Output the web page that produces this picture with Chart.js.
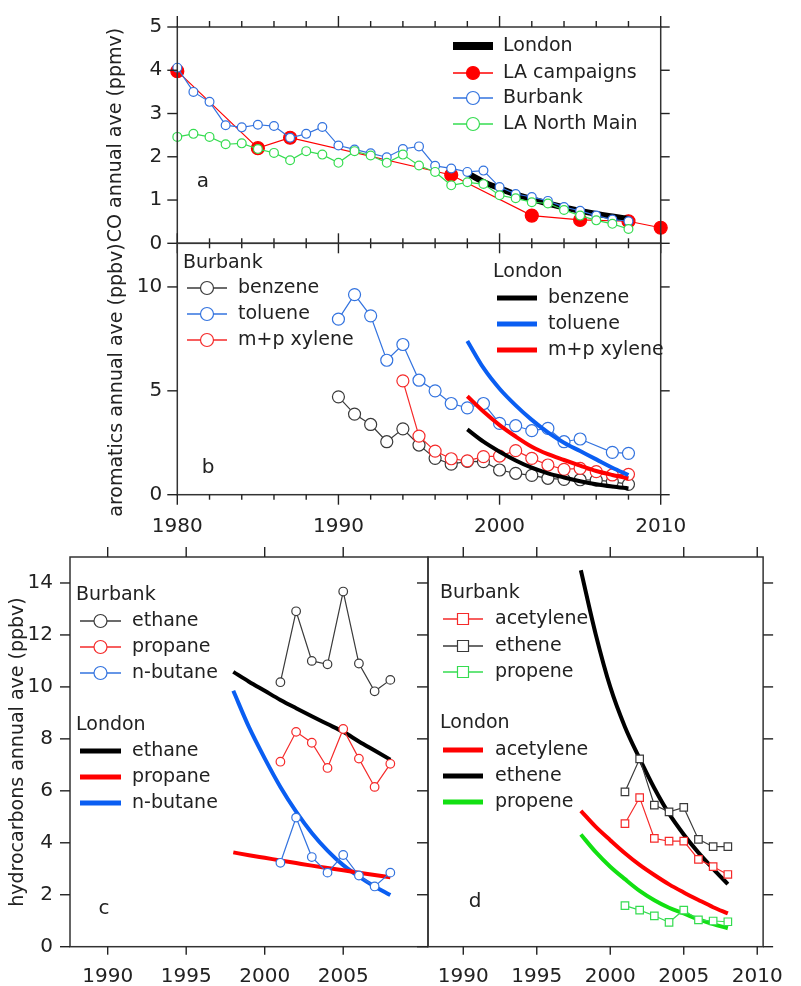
<!DOCTYPE html>
<html>
<head>
<meta charset="utf-8">
<script src="https://cdn.jsdelivr.net/npm/chart.js@4.4.1/dist/chart.umd.min.js"></script>
<style>
html, body { margin: 0; padding: 0; background: #fff; }
#wrap { position: relative; width: 801px; height: 986px; overflow: hidden; }
#wrap canvas { position: absolute; left: 0; top: 0; }
</style>
</head>
<body>
<div id="wrap">
  <canvas id="chartA" width="801" height="986"></canvas>
  <canvas id="chartB" width="801" height="986"></canvas>
  <canvas id="chartC" width="801" height="986"></canvas>
  <canvas id="chartD" width="801" height="986"></canvas>
</div>
<script>
// ---- panel a: CO ----
const coYears = [1980, 1981, 1982, 1983, 1984, 1985, 1986, 1987, 1988, 1989, 1990, 1991, 1992, 1993, 1994,
                 1995, 1996, 1997, 1998, 1999, 2000, 2001, 2002, 2003, 2004, 2005, 2006, 2007, 2008];
const burbankCO = [4.06, 3.50, 3.27, 2.73, 2.68, 2.74, 2.71, 2.44, 2.53, 2.69, 2.26, 2.17, 2.08, 1.99, 2.18,
                   2.24, 1.79, 1.73, 1.65, 1.68, 1.30, 1.14, 1.07, 0.98, 0.84, 0.75, 0.64, 0.55, 0.51];
const northMainCO = [2.46, 2.53, 2.46, 2.29, 2.31, 2.18, 2.09, 1.92, 2.13, 2.05, 1.86, 2.13, 2.03, 1.86, 2.05,
                     1.80, 1.65, 1.34, 1.41, 1.37, 1.11, 1.04, 0.95, 0.92, 0.77, 0.64, 0.53, 0.45, 0.33];
const laYears = [1980, 1985, 1987, 1997, 2002, 2005, 2008, 2010];
const laCO = [3.98, 2.20, 2.44, 1.58, 0.64, 0.54, 0.51, 0.36];
const londonYears = [1998, 1999, 2000, 2001, 2002, 2003, 2004, 2005, 2006, 2007, 2008];
const londonCO = [1.62, 1.42, 1.27, 1.13, 1.02, 0.92, 0.83, 0.75, 0.68, 0.62, 0.56];

// ---- panel b: aromatics ----
const aroYears = [1990, 1991, 1992, 1993, 1994, 1995, 1996, 1997, 1998, 1999, 2000, 2001, 2002, 2003, 2004,
                  2005, 2006, 2007, 2008];
const benzeneBur = [4.71, 3.88, 3.38, 2.55, 3.17, 2.39, 1.75, 1.47, 1.60, 1.59, 1.19, 1.03, 0.93, 0.79, 0.74,
                    0.72, 0.70, 0.63, 0.50];
const tolueneYears = [1990, 1991, 1992, 1993, 1994, 1995, 1996, 1997, 1998, 1999, 2000, 2001, 2002, 2003, 2004,
                      2005, 2007, 2008];
const tolueneBur = [8.45, 9.63, 8.61, 6.47, 7.23, 5.51, 5.00, 4.39, 4.18, 4.39, 3.43, 3.32, 3.08, 3.19, 2.55,
                    2.68, 2.04, 1.99];
const xyleneYears = [1994, 1995, 1996, 1997, 1998, 1999, 2000, 2001, 2002, 2003, 2004, 2005, 2006, 2007, 2008];
const xyleneBur = [5.48, 2.82, 2.10, 1.73, 1.63, 1.83, 1.86, 2.12, 1.75, 1.43, 1.22, 1.27, 1.11, 0.95, 0.98];
const benzeneLon = [3.14, 2.55, 2.07, 1.65, 1.30, 1.03, 0.83, 0.65, 0.50, 0.39, 0.30];
const tolueneLon = [7.40, 6.10, 5.10, 4.30, 3.60, 3.00, 2.50, 2.10, 1.70, 1.30, 0.95];
const xyleneLon = [4.74, 4.00, 3.35, 2.80, 2.31, 1.95, 1.67, 1.40, 1.14, 0.95, 0.79];

// ---- panels c, d: hydrocarbons ----
const hcYears = [2001, 2002, 2003, 2004, 2005, 2006, 2007, 2008];
const ethaneBur = [10.18, 12.91, 11.00, 10.87, 13.67, 10.90, 9.83, 10.27];
const propaneBur = [7.12, 8.27, 7.85, 6.88, 8.38, 7.24, 6.15, 7.04];
const butaneBur = [3.23, 4.97, 3.45, 2.85, 3.53, 2.74, 2.32, 2.85];
const ethaneLon = [10.58, 10.20, 9.85, 9.50, 9.18, 8.87, 8.57, 8.27, 7.90, 7.55, 7.20];
const propaneLon = [3.63, 3.52, 3.42, 3.32, 3.22, 3.12, 3.03, 2.94, 2.85, 2.76, 2.67];
const butaneLon = [9.85, 8.45, 7.25, 6.15, 5.20, 4.38, 3.70, 3.14, 2.70, 2.32, 1.99];

const acetyleneBur = [4.74, 5.74, 4.17, 4.06, 4.06, 3.36, 3.08, 2.78];
const etheneBur = [5.96, 7.23, 5.45, 5.19, 5.36, 4.13, 3.85, 3.85];
const propeneBur = [1.58, 1.41, 1.19, 0.94, 1.41, 1.03, 0.99, 0.96];
const acetyleneLon = [5.23, 4.62, 4.10, 3.60, 3.15, 2.76, 2.40, 2.09, 1.80, 1.52, 1.28];
const etheneLon = [14.49, 12.05, 10.00, 8.46, 7.24, 6.10, 5.12, 4.32, 3.62, 3.00, 2.41];
const propeneLon = [4.32, 3.65, 3.08, 2.60, 2.15, 1.79, 1.50, 1.28, 1.05, 0.87, 0.71];

// tick labels
const decadeTicks = [1980, 1990, 2000, 2010];
const evenYearTicks = [1982, 1984, 1986, 1988, 1992, 1994, 1996, 1998, 2002, 2004, 2006, 2008];
const coTicks = [0, 1, 2, 3, 4, 5];
const aroTicks = [0, 5, 10];
const hcTicks = [0, 2, 4, 6, 8, 10, 12, 14];
const fiveYearTicksC = [1990, 1995, 2000, 2005];
const fiveYearTicksD = [1990, 1995, 2000, 2005, 2010];

const FONT = '"DejaVu Sans", "Liberation Sans", sans-serif';
const INK = '#222';
const RED = '#f52a2a', BLUE = '#3373df', GREEN = '#35dc50', GREY = '#3a3a3a';
const RED_T = '#ff0000', BLUE_T = '#0a5ef2', GREEN_T = '#12e012', BLACK_T = '#000';

function pts(xs, ys) {
    return xs.map((x, i) => ({x: x, y: ys[i]}));
}

function burbank(label, xs, ys, color, r, style) {
    return {
        label: label, data: pts(xs, ys),
        borderColor: color, borderWidth: 1.2,
        pointStyle: style || 'circle', pointRadius: r,
        pointBorderColor: color, pointBackgroundColor: '#fff', pointBorderWidth: 1.2,
        clip: false
    };
}

function london(label, xs, ys, color, w) {
    return {
        label: label, data: pts(xs, ys),
        borderColor: color, borderWidth: w, pointRadius: 0,
        cubicInterpolationMode: 'monotone', borderCapStyle: 'butt', clip: false
    };
}

function xScale(min, max, tickVals, show, h, pad) {
    return {
        type: 'linear', min: min, max: max, display: show,
        afterBuildTicks: s => { s.ticks = tickVals.map(v => ({value: v})); },
        ticks: {padding: pad, color: INK, font: {family: FONT, size: 20}, maxRotation: 0, autoSkip: false,
                callback: v => String(v)},
        grid: {display: false, drawTicks: false},
        border: {display: false},
        afterFit: s => { s.height = h; }
    };
}

function yScale(min, max, tickVals, show, width, pad) {
    return {
        type: 'linear', min: min, max: max, display: show,
        afterBuildTicks: s => { s.ticks = tickVals.map(v => ({value: v})); },
        ticks: {padding: pad, color: INK, font: {family: FONT, size: 20}, callback: v => String(v)},
        grid: {display: false, drawTicks: false},
        border: {display: false},
        afterFit: s => { s.width = width; }
    };
}

// frame, tick marks, axis title, legend and panel letter (config kept in a closure)
function makeDeco(cfg) {
    return {
        id: 'deco',
        afterDraw(chart) {
            const ctx = chart.ctx, a = chart.chartArea;
            const sx = chart.scales.x, sy = chart.scales.y;
            ctx.save();
            ctx.strokeStyle = '#333';
            ctx.lineWidth = 1.5;
            ctx.strokeRect(a.left, a.top, a.right - a.left, a.bottom - a.top);

            ctx.strokeStyle = INK;
            ctx.lineWidth = 1.4;
            cfg.ticks.forEach(t => {
                const outLen = t.dir === 'in' ? 0 : t.len;
                const inLen = t.dir === 'out' ? 0 : t.len;
                t.values.forEach(v => {
                    ctx.beginPath();
                    if (t.side === 'top' || t.side === 'bottom') {
                        const px = sx.getPixelForValue(v);
                        const base = t.side === 'top' ? a.top : a.bottom;
                        const s = t.side === 'top' ? -1 : 1;
                        ctx.moveTo(px, base + s * outLen);
                        ctx.lineTo(px, base - s * inLen);
                    } else {
                        const py = sy.getPixelForValue(v);
                        const base = t.side === 'left' ? a.left : a.right;
                        const s = t.side === 'left' ? -1 : 1;
                        ctx.moveTo(base + s * outLen, py);
                        ctx.lineTo(base - s * inLen, py);
                    }
                    ctx.stroke();
                });
            });

            if (cfg.title) {
                ctx.save();
                ctx.translate(cfg.title.x, cfg.title.y);
                ctx.rotate(-Math.PI / 2);
                ctx.font = '19px ' + FONT;
                ctx.fillStyle = INK;
                ctx.textAlign = 'center';
                ctx.textBaseline = 'middle';
                ctx.fillText(cfg.title.text, 0, 0);
                ctx.restore();
            }

            ctx.font = '19px ' + FONT;
            ctx.textBaseline = 'middle';
            ctx.textAlign = 'left';
            cfg.legend.forEach(g => {
                if (g.head) {
                    ctx.fillStyle = INK;
                    ctx.fillText(g.head, g.hx, g.hy);
                }
                g.rows.forEach(r => {
                    ctx.strokeStyle = r.color;
                    ctx.lineWidth = r.lw;
                    ctx.beginPath();
                    ctx.moveTo(g.x1, r.y);
                    ctx.lineTo(g.x2, r.y);
                    ctx.stroke();
                    if (r.marker) {
                        const mx = (g.x1 + g.x2) / 2;
                        ctx.fillStyle = r.face || '#fff';
                        ctx.lineWidth = 1.2;
                        ctx.beginPath();
                        if (r.marker === 'rect') {
                            ctx.rect(mx - r.r, r.y - r.r, 2 * r.r, 2 * r.r);
                        } else {
                            ctx.arc(mx, r.y, r.r, 0, Math.PI * 2);
                        }
                        ctx.fill();
                        ctx.stroke();
                    }
                    ctx.fillStyle = INK;
                    ctx.fillText(r.text, g.tx, r.y);
                });
            });

            ctx.fillStyle = INK;
            ctx.font = '20px ' + FONT;
            ctx.textAlign = 'center';
            ctx.fillText(cfg.letter.text, cfg.letter.x, cfg.letter.y);
            ctx.restore();
        }
    };
}

function baseOptions(pad, scales) {
    return {
        responsive: false, animation: false, events: [],
        layout: {padding: pad},
        scales: scales,
        plugins: {legend: {display: false}, tooltip: {enabled: false}}
    };
}

// panel a
new Chart(document.getElementById('chartA'), {
    type: 'line',
    data: {datasets: [
        burbank('LA North Main', coYears, northMainCO, GREEN, 4.4),
        burbank('Burbank', coYears, burbankCO, BLUE, 4.4),
        london('London', londonYears, londonCO, BLACK_T, 6),
        Object.assign(burbank('LA campaigns', laYears, laCO, RED_T, 6.5), {pointBackgroundColor: RED_T})
    ]},
    options: baseOptions({left: 0, right: 140.3, top: 22.7, bottom: 742.7}, {
        x: xScale(1980, 2010, decadeTicks, false, 0, 0),
        y: yScale(0, 5, coTicks, true, 177.3, 15)
    }),
    plugins: [makeDeco({
        ticks: [
            {side: 'top', values: decadeTicks, len: 11, dir: 'out'},
            {side: 'top', values: evenYearTicks, len: 6, dir: 'out'},
            {side: 'bottom', values: decadeTicks, len: 10, dir: 'both'},
            {side: 'bottom', values: evenYearTicks, len: 5, dir: 'both'},
            {side: 'left', values: coTicks, len: 10, dir: 'out'},
            {side: 'right', values: coTicks, len: 9, dir: 'out'}
        ],
        title: {text: 'CO annual ave (ppmv)', x: 116, y: 135},
        legend: [{
            x1: 453, x2: 493, tx: 503,
            rows: [
                {text: 'London', y: 46, color: BLACK_T, lw: 8},
                {text: 'LA campaigns', y: 73, color: RED_T, lw: 1.5, marker: 'circle', r: 6.5, face: RED_T},
                {text: 'Burbank', y: 98, color: BLUE, lw: 1.5, marker: 'circle', r: 6.5},
                {text: 'LA North Main', y: 124, color: GREEN, lw: 1.5, marker: 'circle', r: 6.5}
            ]
        }],
        letter: {text: 'a', x: 203, y: 182}
    })]
});

// panel b
new Chart(document.getElementById('chartB'), {
    type: 'line',
    data: {datasets: [
        london('London benzene', londonYears, benzeneLon, BLACK_T, 4),
        london('London toluene', londonYears, tolueneLon, BLUE_T, 4),
        london('London m+p xylene', londonYears, xyleneLon, RED_T, 4),
        burbank('m+p xylene', xyleneYears, xyleneBur, RED, 6),
        burbank('toluene', tolueneYears, tolueneBur, BLUE, 6),
        burbank('benzene', aroYears, benzeneBur, GREY, 6)
    ]},
    options: baseOptions({left: 0, right: 140.3, top: 243.3, bottom: 441.3}, {
        x: xScale(1980, 2010, decadeTicks, true, 50, 20),
        y: yScale(0, 12.1, aroTicks, true, 177.3, 15)
    }),
    plugins: [makeDeco({
        ticks: [
            {side: 'bottom', values: decadeTicks, len: 10, dir: 'out'},
            {side: 'bottom', values: evenYearTicks, len: 5, dir: 'out'},
            {side: 'left', values: aroTicks, len: 10, dir: 'out'},
            {side: 'right', values: aroTicks, len: 9, dir: 'out'}
        ],
        title: {text: 'aromatics annual ave (ppbv)', x: 117, y: 380},
        legend: [{
            head: 'Burbank', hx: 183, hy: 263, x1: 187, x2: 227, tx: 238,
            rows: [
                {text: 'benzene', y: 288, color: GREY, lw: 1.5, marker: 'circle', r: 6.5},
                {text: 'toluene', y: 314, color: BLUE, lw: 1.5, marker: 'circle', r: 6.5},
                {text: 'm+p xylene', y: 340, color: RED, lw: 1.5, marker: 'circle', r: 6.5}
            ]
        }, {
            head: 'London', hx: 493, hy: 272, x1: 497, x2: 537, tx: 548,
            rows: [
                {text: 'benzene', y: 298, color: BLACK_T, lw: 5},
                {text: 'toluene', y: 324, color: BLUE_T, lw: 5},
                {text: 'm+p xylene', y: 350, color: RED_T, lw: 5}
            ]
        }],
        letter: {text: 'b', x: 208, y: 468}
    })]
});

// panel c
new Chart(document.getElementById('chartC'), {
    type: 'line',
    data: {datasets: [
        burbank('ethane', hcYears, ethaneBur, GREY, 4.3),
        burbank('propane', hcYears, propaneBur, RED, 4.3),
        burbank('n-butane', hcYears, butaneBur, BLUE, 4.3),
        london('London ethane', londonYears, ethaneLon, BLACK_T, 4),
        london('London propane', londonYears, propaneLon, RED_T, 4),
        london('London n-butane', londonYears, butaneLon, BLUE_T, 4)
    ]},
    options: baseOptions({left: 0, right: 373, top: 557, bottom: 0}, {
        x: xScale(1987.6, 2010.4, fiveYearTicksC, true, 39.3, 18),
        y: yScale(0, 15, hcTicks, true, 70, 17)
    }),
    plugins: [makeDeco({
        ticks: [
            {side: 'top', values: fiveYearTicksC, len: 10, dir: 'out'},
            {side: 'bottom', values: fiveYearTicksC, len: 8, dir: 'out'},
            {side: 'left', values: hcTicks, len: 10, dir: 'out'}
        ],
        title: {text: 'hydrocarbons annual ave (ppbv)', x: 18.5, y: 752},
        legend: [{
            head: 'Burbank', hx: 76, hy: 595, x1: 80, x2: 121, tx: 132,
            rows: [
                {text: 'ethane', y: 621, color: GREY, lw: 1.5, marker: 'circle', r: 6.5},
                {text: 'propane', y: 647, color: RED, lw: 1.5, marker: 'circle', r: 6.5},
                {text: 'n-butane', y: 673, color: BLUE, lw: 1.5, marker: 'circle', r: 6.5}
            ]
        }, {
            head: 'London', hx: 76, hy: 725, x1: 80, x2: 121, tx: 132,
            rows: [
                {text: 'ethane', y: 751, color: BLACK_T, lw: 5},
                {text: 'propane', y: 777, color: RED_T, lw: 5},
                {text: 'n-butane', y: 803, color: BLUE_T, lw: 5}
            ]
        }],
        letter: {text: 'c', x: 104, y: 909}
    })]
});

// panel d
new Chart(document.getElementById('chartD'), {
    type: 'line',
    data: {datasets: [
        burbank('acetylene', hcYears, acetyleneBur, RED, 5.3, 'rect'),
        burbank('ethene', hcYears, etheneBur, GREY, 5.3, 'rect'),
        burbank('propene', hcYears, propeneBur, GREEN, 5.3, 'rect'),
        london('London acetylene', londonYears, acetyleneLon, RED_T, 4),
        london('London ethene', londonYears, etheneLon, BLACK_T, 4),
        london('London propene', londonYears, propeneLon, GREEN_T, 4)
    ]},
    options: baseOptions({left: 428, right: 18, top: 557, bottom: 0}, {
        x: xScale(1987.6, 2010.4, fiveYearTicksD, true, 39.3, 18),
        y: yScale(0, 15, hcTicks, false, 0, 0)
    }),
    plugins: [makeDeco({
        ticks: [
            {side: 'top', values: fiveYearTicksD, len: 10, dir: 'out'},
            {side: 'bottom', values: fiveYearTicksD, len: 8, dir: 'out'},
            {side: 'left', values: hcTicks, len: 11, dir: 'out'},
            {side: 'right', values: hcTicks, len: 10, dir: 'out'}
        ],
        title: null,
        legend: [{
            head: 'Burbank', hx: 440, hy: 593, x1: 443, x2: 483, tx: 495,
            rows: [
                {text: 'acetylene', y: 619, color: RED, lw: 1.5, marker: 'rect', r: 5.5},
                {text: 'ethene', y: 646, color: GREY, lw: 1.5, marker: 'rect', r: 5.5},
                {text: 'propene', y: 672, color: GREEN, lw: 1.5, marker: 'rect', r: 5.5}
            ]
        }, {
            head: 'London', hx: 440, hy: 723, x1: 443, x2: 483, tx: 495,
            rows: [
                {text: 'acetylene', y: 750, color: RED_T, lw: 5},
                {text: 'ethene', y: 776, color: BLACK_T, lw: 5},
                {text: 'propene', y: 802, color: GREEN_T, lw: 5}
            ]
        }],
        letter: {text: 'd', x: 475, y: 902}
    })]
});
</script>
</body>
</html>
